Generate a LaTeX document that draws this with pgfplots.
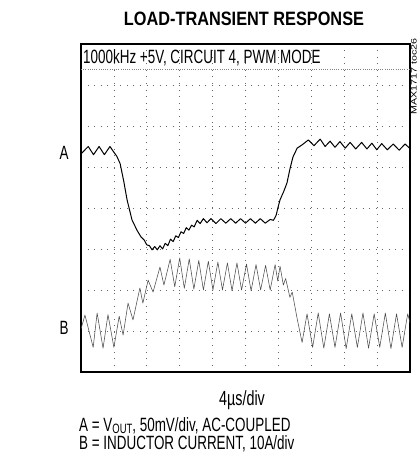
\documentclass[border=0pt]{standalone}
\usepackage{fontspec}
\setmainfont[FakeStretch=0.7]{Liberation Sans}
\usepackage{graphicx}
\usepackage{pgfplots}
\pgfplotsset{compat=1.18}
\begin{document}
\begin{tikzpicture}[x=1bp,y=1bp]
\useasboundingbox (0,0) rectangle (419,459);
\begin{axis}[
  scale only axis, width=329bp, height=328bp,
  at={(81bp,87bp)}, anchor=south west,
  xmin=0, xmax=10, ymin=0, ymax=8,
  xtick={1,...,9}, ytick={1,...,7},
  xticklabels={}, yticklabels={},
  major tick length=0pt,
  grid=major,
  grid style={black!60, line width=0.75bp, dash pattern=on 0.75bp off 5.8bp},
  axis line style={line width=2.6bp, black},
  clip=true,
]
% faint extra dotted line under the label
\addplot[black!50, line width=0.6bp, dash pattern=on 0.6bp off 1.6bp] coordinates {(0,7.39) (10,7.39)};
% Trace A: VOUT
\addplot[black, line width=1bp, line join=round] coordinates {
(0,5.32) (0.22,5.5) (0.38,5.3) (0.55,5.5) (0.71,5.3) (0.88,5.5) (1.0,5.36) (1.09,5.26)
(1.19,5.08) (1.30,4.65) (1.40,4.20) (1.55,3.71) (1.70,3.46) (1.82,3.30) (1.92,3.22)
(2.0,3.10) (2.08,3.08) (2.16,2.98) (2.24,3.06) (2.32,2.98) (2.40,3.08) (2.48,3.0)
(2.56,3.14) (2.64,3.08) (2.72,3.24) (2.80,3.18) (2.88,3.32) (2.96,3.28) (3.04,3.42)
(3.12,3.38) (3.20,3.52) (3.28,3.46) (3.36,3.58) (3.44,3.54) (3.53,3.70) (3.62,3.62)
(3.72,3.74) (3.83,3.64) (3.95,3.74) (4.10,3.62) (4.25,3.74) (4.40,3.63) (4.55,3.74)
(4.70,3.63) (4.85,3.74) (5.0,3.63) (5.15,3.74) (5.30,3.63) (5.45,3.74) (5.60,3.63)
(5.75,3.72) (5.85,3.70) (5.93,3.82) (5.99,4.02) (6.05,4.20) (6.16,4.40) (6.26,4.61)
(6.35,4.95) (6.44,5.24) (6.57,5.46) (6.72,5.54) (6.91,5.66) (7.08,5.52) (7.27,5.68)
(7.42,5.5) (7.57,5.63) (7.72,5.48) (7.87,5.62) (8.03,5.46) (8.18,5.6) (8.35,5.44)
(8.53,5.6) (8.69,5.44) (8.84,5.58) (8.99,5.42) (9.14,5.57) (9.31,5.42) (9.49,5.56)
(9.67,5.41) (9.85,5.56) (10,5.45)
};
% Trace B: inductor current
\addplot[black!70, line width=0.55bp, line join=round] coordinates {
(0,1.05) (0.12,1.39) (0.37,0.6) (0.49,1.44) (0.67,0.58) (0.82,1.4) (1.0,0.6) (1.16,1.36)
(1.28,0.9) (1.43,1.68) (1.58,1.27) (1.79,2.05) (1.88,1.68) (2.04,2.24) (2.19,1.95)
(2.40,2.56) (2.52,2.12) (2.71,2.75) (2.85,2.08) (3.0,2.78) (3.14,2.04) (3.29,2.76)
(3.43,2.02) (3.58,2.72) (3.72,2.0) (3.87,2.70) (4.01,2.0) (4.16,2.68) (4.30,2.0)
(4.45,2.66) (4.59,1.98) (4.74,2.66) (4.88,2.0) (5.03,2.63) (5.17,1.98) (5.32,2.62)
(5.46,2.0) (5.61,2.6) (5.75,2.0) (5.90,2.62) (5.98,2.22) (6.05,2.58) (6.15,2.12)
(6.22,2.28) (6.35,1.82) (6.42,1.95) (6.57,1.3) (6.72,0.72) (6.87,1.42) (7.04,0.6)
(7.21,1.44) (7.38,0.58) (7.55,1.42) (7.72,0.6) (7.89,1.44) (8.06,0.57) (8.23,1.42)
(8.40,0.6) (8.57,1.44) (8.74,0.58) (8.91,1.42) (9.08,0.6) (9.25,1.44) (9.42,0.57)
(9.59,1.42) (9.76,0.6) (9.93,1.42) (10,1.2)
};
\end{axis}
% texts
\node at (244,440.5) {\resizebox{240bp}{13.5bp}{\bfseries LOAD-TRANSIENT RESPONSE}};
\node[anchor=base west, inner sep=0pt] at (83,395) {\fontsize{19.2bp}{22bp}\selectfont 1000kHz +5V, CIRCUIT 4, PWM MODE};
\node[anchor=east, rotate=90, inner sep=0pt] at (414,421) {\resizebox{76bp}{5.5bp}{MAX1717 toc26}};
\node[anchor=base, inner sep=0pt] at (64,299) {\fontsize{19.2bp}{22bp}\selectfont A};
\node[anchor=base, inner sep=0pt] at (64,124) {\fontsize{19.2bp}{22bp}\selectfont B};
\node[anchor=base, inner sep=0pt] at (242,53) {\fontsize{20.5bp}{24bp}\selectfont 4µs/div};
\node[anchor=base west, inner sep=0pt] at (79,27) {\fontsize{19.2bp}{22bp}\selectfont A = V\raisebox{-1.5bp}{\fontsize{13.5bp}{14bp}\selectfont OUT}, 50mV/div, AC-COUPLED};
\node[anchor=base west, inner sep=0pt] at (79,9) {\fontsize{19.2bp}{22bp}\selectfont B = INDUCTOR CURRENT, 10A/div};
\end{tikzpicture}
\end{document}
